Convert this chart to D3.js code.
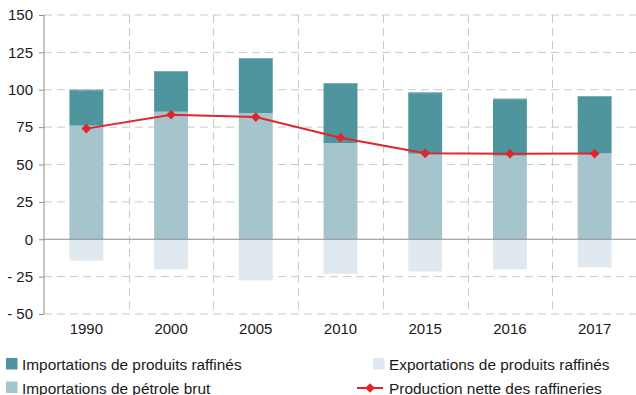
<!DOCTYPE html>
<html>
<head>
<meta charset="utf-8">
<script src="https://cdn.jsdelivr.net/npm/d3@7/dist/d3.min.js"></script>
<style>
  html, body { margin: 0; padding: 0; background: #fff; }
  svg { display: block; font-family: "Liberation Sans", Arial, sans-serif; }
</style>
</head>
<body>
<svg id="chart" width="636" height="395"></svg>
<script>
// Years on the x axis
const years = ["1990", "2000", "2005", "2010", "2015", "2016", "2017"];
// Crude oil imports (Mt)
const crudeImports = [76, 85.3, 84.4, 64.3, 57.2, 55.9, 57.4];
// Refined product imports (Mt), stacked on crude imports
const refinedImports = [24, 27.2, 36.8, 40.2, 41, 38.1, 38.4];
// Refined product exports (Mt), drawn below zero
const refinedExports = [-14.2, -20.2, -27.5, -23.1, -21.5, -20.2, -18.9];
// Net refinery output (Mt)
const netProduction = [74, 83.3, 81.7, 67.9, 57.5, 57.2, 57.3];
// Y axis ticks
const yTicks = [150, 125, 100, 75, 50, 25, 0, -25, -50];

const legendLabels = {
  refined: "Importations de produits raffinés",
  crude: "Importations de pétrole brut",
  exports: "Exportations de produits raffinés",
  production: "Production nette des raffineries"
};

const colors = {
  refined: "#4f959e",
  refinedTop: "#7fb0b7",
  crude: "#a6c4cc",
  exports: "#e0e9ef",
  production: "#e2242c",
  grid: "#c9c9c9",
  axis: "#8c8c8c",
  text: "#1a1a1a"
};

const svg = d3.select("#chart");
const plotLeft = 44, plotRight = 637, plotTop = 15, plotBottom = 314;

const x = d3.scaleBand().domain(years).range([plotLeft, plotRight]).paddingInner(0).paddingOuter(0);
const y = d3.scaleLinear().domain([-50, 150]).range([plotBottom, plotTop]);
const barW = x.bandwidth() * 0.4;
const barX = d => x(d) + (x.bandwidth() - barW) / 2;

// Horizontal dashed grid lines
svg.append("g").selectAll("line").data(yTicks.filter(d => d !== 0)).join("line")
  .attr("x1", plotLeft).attr("x2", 636)
  .attr("y1", d => y(d)).attr("y2", d => y(d))
  .attr("stroke", colors.grid).attr("stroke-width", 1)
  .attr("stroke-dasharray", "8,5");

// Vertical dashed grid lines between years
svg.append("g").selectAll("line").data(years.slice(1)).join("line")
  .attr("x1", d => Math.round(x(d)) + 0.5).attr("x2", d => Math.round(x(d)) + 0.5)
  .attr("y1", plotTop).attr("y2", plotBottom)
  .attr("stroke", colors.grid).attr("stroke-width", 1)
  .attr("stroke-dasharray", "8,5");

// Bars
const bars = svg.append("g");
bars.selectAll("rect.exp").data(years).join("rect").attr("class", "exp")
  .attr("x", barX).attr("width", barW)
  .attr("y", y(0)).attr("height", (d, i) => y(refinedExports[i]) - y(0))
  .attr("fill", colors.exports);
bars.selectAll("rect.crude").data(years).join("rect").attr("class", "crude")
  .attr("x", barX).attr("width", barW)
  .attr("y", (d, i) => y(crudeImports[i])).attr("height", (d, i) => y(0) - y(crudeImports[i]))
  .attr("fill", colors.crude);
bars.selectAll("rect.ref").data(years).join("rect").attr("class", "ref")
  .attr("x", barX).attr("width", barW)
  .attr("y", (d, i) => y(crudeImports[i] + refinedImports[i]))
  .attr("height", (d, i) => y(crudeImports[i]) - y(crudeImports[i] + refinedImports[i]))
  .attr("fill", colors.refined);
// thin light edge on top of each stack
bars.selectAll("rect.edge").data(years).join("rect").attr("class", "edge")
  .attr("x", barX).attr("width", barW)
  .attr("y", (d, i) => y(crudeImports[i] + refinedImports[i])).attr("height", 1)
  .attr("fill", colors.refinedTop);

// Zero line
svg.append("line")
  .attr("x1", plotLeft).attr("x2", 636).attr("y1", y(0)).attr("y2", y(0))
  .attr("stroke", colors.axis).attr("stroke-width", 1.2);

// Left axis
const yAxis = d3.axisLeft(y).tickValues(yTicks).tickSize(5).tickPadding(6)
  .tickFormat(d => d < 0 ? "- " + Math.abs(d) : String(d));
const ga = svg.append("g").attr("transform", `translate(${plotLeft},0)`).call(yAxis);
ga.select(".domain").attr("stroke", colors.axis).attr("d", `M0,${plotTop}V${plotBottom}`);
ga.selectAll(".tick line").attr("stroke", colors.axis);
ga.selectAll(".tick text").attr("fill", colors.text).attr("font-size", 15)
  .attr("font-family", "Liberation Sans, Arial, sans-serif");

// Year labels
svg.append("g").selectAll("text").data(years).join("text")
  .attr("x", d => x(d) + x.bandwidth() / 2).attr("y", 334)
  .attr("text-anchor", "middle").attr("font-size", 15).attr("fill", colors.text)
  .text(d => d);

// Net production line with diamond markers
const line = d3.line().x((d, i) => x(years[i]) + x.bandwidth() / 2).y(d => y(d));
svg.append("path").datum(netProduction).attr("d", line)
  .attr("fill", "none").attr("stroke", colors.production).attr("stroke-width", 2);
const diamond = d3.symbol().type(d3.symbolDiamond2).size(60);
svg.append("g").selectAll("path").data(netProduction).join("path")
  .attr("transform", (d, i) => `translate(${x(years[i]) + x.bandwidth() / 2},${y(d)})`)
  .attr("d", diamond).attr("fill", colors.production);

// Legend
const lg = svg.append("g").attr("font-size", 15.4).attr("fill", colors.text);
function swatch(xp, yp, fill, label) {
  lg.append("rect").attr("x", xp).attr("y", yp).attr("width", 11.5).attr("height", 11.5).attr("fill", fill);
  lg.append("text").attr("x", xp + 16).attr("y", yp + 12).text(label);
}
swatch(6, 358, colors.refined, legendLabels.refined);
swatch(6, 381.5, colors.crude, legendLabels.crude);
swatch(373, 358, colors.exports, legendLabels.exports);
lg.append("line").attr("x1", 357).attr("x2", 383).attr("y1", 388).attr("y2", 388)
  .attr("stroke", colors.production).attr("stroke-width", 2);
lg.append("path").attr("transform", "translate(370,388)").attr("d", diamond).attr("fill", colors.production);
lg.append("text").attr("x", 389).attr("y", 393.5).text(legendLabels.production);
</script>
</body>
</html>
